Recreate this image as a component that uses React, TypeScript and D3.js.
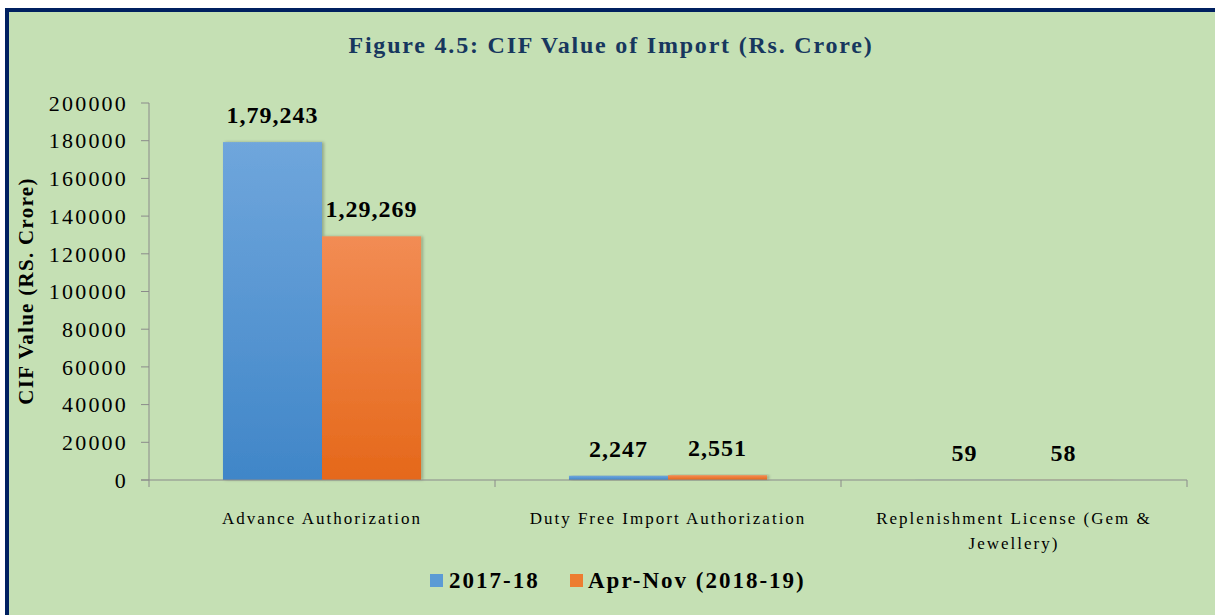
import React from "react";
import * as d3 from "d3";

const categories = [
  ["Advance Authorization"],
  ["Duty Free Import Authorization"],
  ["Replenishment License (Gem &", "Jewellery)"],
];
const seriesNames = ["2017-18", "Apr-Nov (2018-19)"];
const values2017 = [179243, 2247, 59];
const valuesAprNov = [129269, 2551, 58];
const valueLabels2017 = ["1,79,243", "2,247", "59"];
const valueLabelsAprNov = ["1,29,269", "2,551", "58"];
const yTicks = [0, 20000, 40000, 60000, 80000, 100000, 120000, 140000, 160000, 180000, 200000];

const W = 1215;
const H = 615;
const FONT = "'Liberation Serif', 'Times New Roman', serif";

export default function App() {
  const x0 = d3.scaleBand<number>().domain([0, 1, 2]).range([149, 1187]).paddingInner(0).paddingOuter(0);
  const x1 = d3.scaleBand<number>().domain([0, 1]).range([0, x0.bandwidth()]).paddingInner(0).paddingOuter(0.747);
  const y = d3.scaleLinear().domain([0, 200000]).range([480, 103]);
  const series = [
    { name: seriesNames[0], values: values2017, labels: valueLabels2017, fill: "url(#gBlue)", sw: "#5b9bd5" },
    { name: seriesNames[1], values: valuesAprNov, labels: valueLabelsAprNov, fill: "url(#gOrange)", sw: "#ed7d31" },
  ];
  const axisColor = "#8a8a8a";
  return (
    <svg width={W} height={H} style={{ position: "absolute", left: 0, top: 0, display: "block" }}>
      <defs>
        <linearGradient id="gBlue" x1="0" y1="0" x2="0" y2="1">
          <stop offset="0" stopColor="#6fa6dc" />
          <stop offset="1" stopColor="#4086c8" />
        </linearGradient>
        <linearGradient id="gOrange" x1="0" y1="0" x2="0" y2="1">
          <stop offset="0" stopColor="#f28c54" />
          <stop offset="1" stopColor="#e5681a" />
        </linearGradient>
        <filter id="shadow" x="-10%" y="-10%" width="130%" height="120%">
          <feDropShadow dx="2" dy="0" stdDeviation="1.5" floodColor="#000" floodOpacity="0.25" />
        </filter>
      </defs>
      <rect x={0} y={0} width={W} height={H} fill="#ffffff" />
      <rect x={5} y={8} width={W - 5} height={H - 8} fill="#002060" />
      <rect x={9} y={12} width={W - 9} height={H - 12} fill="#c5e0b4" />
      <text x={611} y={53} textAnchor="middle" fontFamily={FONT} fontWeight="bold" fontSize={24} letterSpacing={1.8} fill="#17375e">
        Figure 4.5: CIF Value of Import (Rs. Crore)
      </text>
      {/* y axis */}
      <line x1={149} x2={149} y1={y(200000)} y2={y(0)} stroke={axisColor} strokeWidth={1} />
      {yTicks.map((t) => (
        <g key={t}>
          <line x1={141} x2={149} y1={y(t)} y2={y(t)} stroke={axisColor} strokeWidth={1} />
          <text x={128} y={y(t)} dy="0.35em" textAnchor="end" fontFamily={FONT} fontSize={22} letterSpacing={2.2} fill="#000">
            {t}
          </text>
        </g>
      ))}
      <text
        transform={`translate(33,${291}) rotate(-90)`}
        textAnchor="middle"
        fontFamily={FONT}
        fontWeight="bold"
        fontSize={21}
        letterSpacing={1.3}
        fill="#000"
      >
        CIF Value (RS. Crore)
      </text>
      {/* bars */}
      {categories.map((c, i) =>
        series.map((s, j) => {
          const bx = (x0(i) as number) + (x1(j) as number);
          const by = y(s.values[i]);
          return (
            <g key={`${i}-${j}`}>
              <rect x={bx} y={by} width={x1.bandwidth()} height={y(0) - by} fill={s.fill} filter="url(#shadow)" />
              <text
                x={bx + x1.bandwidth() / 2}
                y={by - 19}
                textAnchor="middle"
                fontFamily={FONT}
                fontWeight="bold"
                fontSize={24}
                letterSpacing={1}
                fill="#000"
              >
                {s.labels[i]}
              </text>
            </g>
          );
        })
      )}
      {/* x axis */}
      <line x1={141} x2={1187} y1={480} y2={480} stroke={axisColor} strokeWidth={1.2} />
      {[0, 1, 2, 3].map((k) => {
        const xx = 149 + k * x0.step();
        return <line key={k} x1={xx} x2={xx} y1={480} y2={487} stroke={axisColor} strokeWidth={1} />;
      })}
      {categories.map((c, i) => (
        <text
          key={i}
          x={(x0(i) as number) + x0.bandwidth() / 2}
          y={524}
          textAnchor="middle"
          fontFamily={FONT}
          fontSize={17}
          letterSpacing={2}
          fill="#000"
        >
          {c.map((line, k) => (
            <tspan key={k} x={(x0(i) as number) + x0.bandwidth() / 2} dy={k === 0 ? 0 : 25}>
              {line}
            </tspan>
          ))}
        </text>
      ))}
      {/* legend */}
      <rect x={430} y={574} width={13} height={13} fill={series[0].sw} />
      <text x={449} y={588} fontFamily={FONT} fontWeight="bold" fontSize={23} letterSpacing={2} fill="#000">
        {seriesNames[0]}
      </text>
      <rect x={570} y={574} width={13} height={13} fill={series[1].sw} />
      <text x={588} y={588} fontFamily={FONT} fontWeight="bold" fontSize={23} letterSpacing={2} fill="#000">
        {seriesNames[1]}
      </text>
    </svg>
  );
}
